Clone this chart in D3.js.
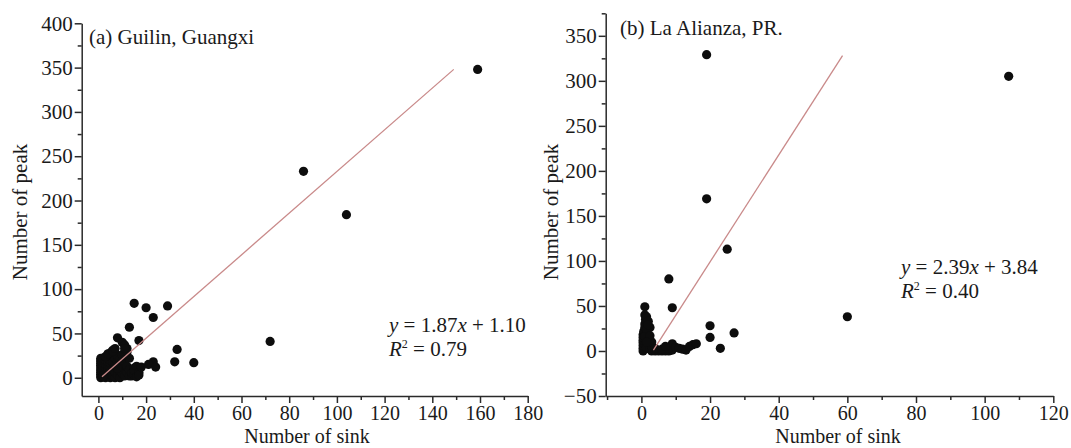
<!DOCTYPE html>
<html>
<head>
<meta charset="utf-8">
<script src="https://cdn.jsdelivr.net/npm/d3@7"></script>
<style>
  body { margin: 0; background: #fff; }
  svg text { font-family: "Liberation Serif", "Times New Roman", serif; fill: #1a1a1a; }
</style>
</head>
<body>
<svg id="chart" width="1071" height="448"></svg>
<script>
// (a) Guilin, Guangxi — number of sink vs number of peak
const sinkA = [
  159, 86, 104, 72, 40, 32, 33, 15, 20, 29, 23, 13, 17, 8, 23, 21, 24,
  1, 1, 1, 1, 1, 1, 1, 1, 1, 1, 1, 1,
  2, 2, 2, 2, 2, 2,
  3, 3, 3, 3, 3, 3, 3,
  4, 4, 4, 4, 4, 4, 4,
  5, 5, 5, 5, 5, 5, 5, 5,
  6, 6, 6, 6, 6,
  7, 7, 7, 7, 7,
  8, 8, 8, 8,
  9, 9, 9, 9, 10,
  10, 10, 10, 10, 11,
  11, 11, 11, 12, 12, 12, 12,
  13, 13, 14, 14, 15, 15, 15, 16, 16, 17, 17, 18,
  2, 3, 4, 6, 7, 8, 11, 13
];
const peakA = [
  348, 233, 184, 41, 17, 18, 32, 84, 79, 81, 68, 57, 42, 45, 18, 15, 12,
  0, 2, 4, 6, 8, 10, 12, 14, 16, 18, 20, 22,
  1, 5, 9, 13, 17, 21,
  0, 3, 7, 11, 15, 19, 23,
  2, 6, 10, 14, 18, 22, 26,
  0, 4, 8, 12, 16, 20, 24, 28,
  2, 10, 18, 26, 31,
  0, 6, 14, 22, 28,
  3, 10, 18, 25,
  0, 8, 15, 21, 40,
  5, 12, 19, 26, 37,
  2, 10, 14, 33, 6, 13, 29, 2,
  9, 2, 5, 11, 3, 8, 13, 1, 6, 3, 12, 2,
  24, 27, 30, 33, 11, 33, 22, 17
];
const fitA = { x: [1.5, 149], y: [1, 348] };

// (b) La Alianza, PR.
const sinkB = [
  19, 107, 19, 25, 8, 9, 1, 60, 20, 20, 27, 23,
  0.5, 0.5, 0.5, 0.5, 0.5, 0.5, 0.5, 0.7, 1, 1, 1.2, 1, 1.5, 2, 2.5, 1.5, 2, 2, 1.5, 2.5, 3, 3, 3,
  4, 5, 6, 7, 8, 9, 4, 6, 8, 9, 10, 11, 12, 13, 14, 15, 16, 7,
  1.5, 2, 1, 2.5, 1.5
];
const peakB = [
  329, 305, 169, 113, 80, 48, 49, 38, 28, 15, 20, 3,
  0, 3, 6, 9, 12, 15, 18, 22, 26, 30, 35, 40, 38, 33, 26, 20, 14, 8, 4, 2, 0, 5, 10,
  0, 0, 0, 0, 0, 1, 3, 2, 3, 8, 4, 3, 2, 1, 5, 7, 8, 5,
  24, 29, 16, 17, 10
];
const fitB = { x: [3.5, 58.6], y: [1, 328] };

const FONT = '"Liberation Serif", "Times New Roman", serif';
const svg = d3.select('#chart');

function panel(opts) {
  const { sink, peak, fit, xDomain, xRange, yDomain, yRange,
          xMajor, xMinor, yMajor, yMinor, title, titlePos,
          eq, eqPos, yLabelX, xLabelX } = opts;

  const x = d3.scaleLinear().domain(xDomain).range(xRange);
  const y = d3.scaleLinear().domain(yDomain).range(yRange);
  const g = svg.append('g');

  // minor ticks
  g.append('g')
    .attr('transform', `translate(0,${yRange[0]})`)
    .call(d3.axisBottom(x).tickValues(xMinor).tickSize(4).tickFormat(''))
    .call(s => s.select('.domain').remove());
  g.append('g')
    .attr('transform', `translate(${xRange[0]},0)`)
    .call(d3.axisLeft(y).tickValues(yMinor).tickSize(4).tickFormat(''))
    .call(s => s.select('.domain').remove());

  // major axes
  g.append('g')
    .attr('transform', `translate(0,${yRange[0]})`)
    .call(d3.axisBottom(x).tickValues(xMajor).tickSize(7).tickSizeOuter(0).tickPadding(3))
    .attr('font-family', FONT).attr('font-size', 20);
  g.append('g')
    .attr('transform', `translate(${xRange[0]},0)`)
    .call(d3.axisLeft(y).tickValues(yMajor).tickSize(7).tickSizeOuter(0).tickPadding(2)
      .tickFormat(d => d < 0 ? '\u2212' + Math.abs(d) : d))
    .attr('font-family', FONT).attr('font-size', 21);

  g.selectAll('.domain, .tick line').attr('stroke', '#2a2a2a').attr('stroke-width', 1.5);
  g.selectAll('.tick text').attr('fill', '#1a1a1a');

  // points
  g.append('g').selectAll('circle')
    .data(d3.zip(sink, peak))
    .join('circle')
    .attr('cx', d => x(d[0]))
    .attr('cy', d => y(d[1]))
    .attr('r', 4.6)
    .attr('fill', '#0d0d0d');

  // fitted line
  g.append('line')
    .attr('x1', x(fit.x[0])).attr('y1', y(fit.y[0]))
    .attr('x2', x(fit.x[1])).attr('y2', y(fit.y[1]))
    .attr('stroke', '#c98a8a').attr('stroke-width', 1.3);

  // title
  g.append('text').attr('x', titlePos[0]).attr('y', titlePos[1])
    .attr('font-size', 21).text(title);

  // equation
  const t1 = g.append('text').attr('x', eqPos[0]).attr('y', eqPos[1]).attr('font-size', 21);
  t1.append('tspan').attr('font-style', 'italic').text('y');
  t1.append('tspan').text(` = ${eq[0]}`);
  t1.append('tspan').attr('font-style', 'italic').text('x');
  t1.append('tspan').text(` + ${eq[1]}`);
  const t2 = g.append('text').attr('x', eqPos[0]).attr('y', eqPos[1] + 24).attr('font-size', 21);
  t2.append('tspan').attr('font-style', 'italic').text('R');
  t2.append('tspan').attr('font-size', 12).attr('dy', -8).text('2');
  t2.append('tspan').attr('dy', 8).text(` = ${eq[2]}`);

  // axis titles
  g.append('text')
    .attr('transform', `translate(${yLabelX},212) rotate(-90)`)
    .attr('text-anchor', 'middle').attr('dy', '0.35em')
    .attr('font-size', 21).text('Number of peak');
  g.append('text')
    .attr('x', xLabelX).attr('y', 443)
    .attr('text-anchor', 'middle')
    .attr('font-size', 20).text('Number of sink');
}

panel({
  sink: sinkA, peak: peakA, fit: fitA,
  xDomain: [-7, 180], xRange: [81.7, 527.7],
  yDomain: [-20.6, 400], yRange: [396, 23.3],
  xMajor: d3.range(0, 181, 20), xMinor: d3.range(10, 180, 20),
  yMajor: d3.range(0, 401, 50), yMinor: d3.range(25, 400, 50),
  title: '(a) Guilin, Guangxi', titlePos: [89, 44],
  eq: ['1.87', '1.10', '0.79'], eqPos: [389, 332],
  yLabelX: 20, xLabelX: 307
});

panel({
  sink: sinkB, peak: peakB, fit: fitB,
  xDomain: [-10.4, 120], xRange: [605.7, 1053.3],
  yDomain: [-50, 375], yRange: [396, 13.3],
  xMajor: d3.range(0, 121, 20), xMinor: d3.range(-10, 120, 20),
  yMajor: d3.range(-50, 351, 50), yMinor: d3.range(-25, 376, 50),
  title: '(b) La Alianza, PR.', titlePos: [620, 35],
  eq: ['2.39', '3.84', '0.40'], eqPos: [901, 274],
  yLabelX: 551, xLabelX: 838
});
</script>
</body>
</html>
